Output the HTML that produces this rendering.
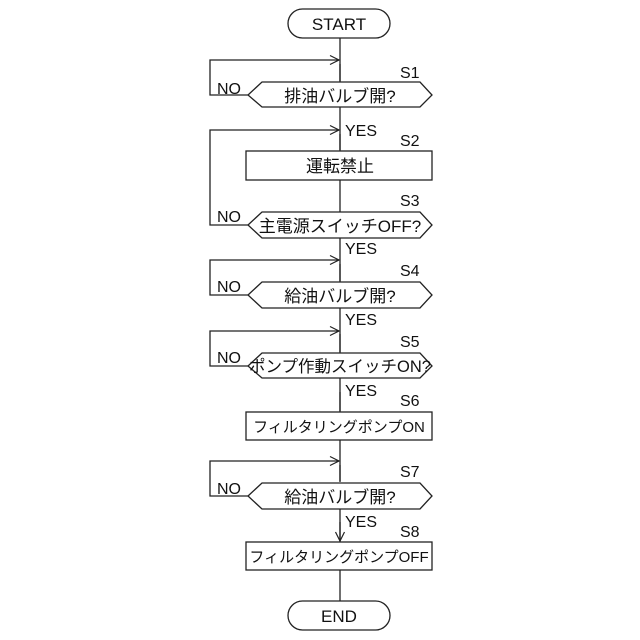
<!DOCTYPE html>
<html><head><meta charset="utf-8"><style>body{margin:0;background:#fff}svg{display:block}</style></head><body>
<svg width="640" height="640" viewBox="0 0 640 640" xmlns="http://www.w3.org/2000/svg" font-family="Liberation Sans, Noto Sans CJK JP, sans-serif" font-size="17" fill="none" stroke="#222" stroke-width="1.3">
<defs><marker id="a" markerWidth="12" markerHeight="12" refX="10" refY="6" orient="auto" markerUnits="userSpaceOnUse"><path d="M1,1.5 L10,6 L1,10.5" fill="none" stroke="#222" stroke-width="1.2"/></marker></defs>
<rect x="288" y="9" width="102" height="29" rx="14.5" fill="#fff"/>
<rect x="288" y="601" width="102" height="29" rx="14.5" fill="#fff"/>
<path d="M340 38 V82 M340 107 V151 M340 180 V212 M340 238 V282 M340 308 V353 M340 378 V412 M340 440 V482 M340 509 V542 M340 570 V601"/>
<path d="M340 64 V81 M340 134 V150 M340 264 V281 M340 334 V352 M340 392 V411 M340 465 V481 M340 522 V541" marker-end="url(#a)"/>
<polygon points="248,95 262,82 420,82 432,95 420,107 262,107" fill="#fff"/>
<rect x="246" y="151" width="186" height="29" fill="#fff"/>
<polygon points="248,225 262,212 420,212 432,225 420,238 262,238" fill="#fff"/>
<polygon points="248,295 262,282 420,282 432,295 420,308 262,308" fill="#fff"/>
<polygon points="248,366 262,353 420,353 432,366 420,378 262,378" fill="#fff"/>
<rect x="246" y="412" width="186" height="28" fill="#fff"/>
<polygon points="248,496 262,483 420,483 432,496 420,509 262,509" fill="#fff"/>
<rect x="246" y="542" width="186" height="28" fill="#fff"/>
<path d="M248 95 H210 V60 H339" marker-end="url(#a)"/>
<path d="M248 225 H210 V130 H339" marker-end="url(#a)"/>
<path d="M248 295 H210 V260 H339" marker-end="url(#a)"/>
<path d="M248 366 H210 V331 H339" marker-end="url(#a)"/>
<path d="M248 496 H210 V461 H339" marker-end="url(#a)"/>
<g fill="#111" stroke="none" text-anchor="middle">
<text x="339" y="30" font-size="17">START</text>
<text x="339" y="622" font-size="17">END</text>
<text x="340" y="102">排油バルブ開?</text>
<text x="340" y="172">運転禁止</text>
<text x="340" y="232">主電源スイッチOFF?</text>
<text x="340" y="302">給油バルブ開?</text>
<text x="340" y="372" font-size="16.5">ポンプ作動スイッチON?</text>
<text x="339" y="432" font-size="15">フィルタリングポンプON</text>
<text x="340" y="503">給油バルブ開?</text>
<text x="339" y="562" font-size="15">フィルタリングポンプOFF</text>
</g>
<g fill="#111" stroke="none" font-size="16">
<text x="400" y="78">S1</text><text x="400" y="146">S2</text><text x="400" y="206">S3</text><text x="400" y="276">S4</text><text x="400" y="347">S5</text><text x="400" y="406">S6</text><text x="400" y="477">S7</text><text x="400" y="537">S8</text>
<text x="345" y="136">YES</text><text x="345" y="254">YES</text><text x="345" y="325">YES</text><text x="345" y="396">YES</text><text x="345" y="527">YES</text>
<text x="217" y="94">NO</text><text x="217" y="222">NO</text><text x="217" y="292">NO</text><text x="217" y="363">NO</text><text x="217" y="494">NO</text>
</g>
</svg>
</body></html>
